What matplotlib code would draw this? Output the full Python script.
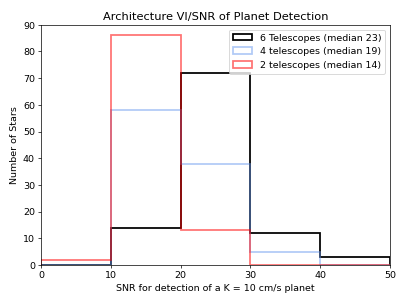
import numpy as np
import matplotlib
matplotlib.use("Agg")
import matplotlib.pyplot as plt

bin_edges = [0, 10, 20, 30, 40, 50]
counts_6 = [0, 14, 72, 12, 3]
counts_4 = [0, 58, 38, 5, 0]
counts_2 = [2, 86, 13, 0, 0]
labels = ["6 Telescopes (median 23)", "4 telescopes (median 19)", "2 telescopes (median 14)"]

centers = 0.5 * (np.array(bin_edges[:-1]) + np.array(bin_edges[1:]))

plt.rcParams["font.size"] = 10.8
fig, ax = plt.subplots(figsize=(6.4, 4.8), dpi=407 / 6.4)
fig.subplots_adjust(left=0.101, right=0.958, top=0.918, bottom=0.131)
ax.hist(centers, bins=bin_edges, weights=counts_6, histtype="step",
        color="black", lw=2, label=labels[0])
ax.hist(centers, bins=bin_edges, weights=counts_4, histtype="step",
        color="cornflowerblue", alpha=0.5, lw=2, label=labels[1])
ax.hist(centers, bins=bin_edges, weights=counts_2, histtype="step",
        color="red", alpha=0.55, lw=2, label=labels[2])

ax.set_xlim(0, 50)
ax.set_ylim(0, 90)
ax.set_xlabel("SNR for detection of a K = 10 cm/s planet")
ax.set_ylabel("Number of Stars")
ax.set_title("Architecture VI/SNR of Planet Detection")
ax.legend(loc="upper right")
fig.savefig("out.png")
